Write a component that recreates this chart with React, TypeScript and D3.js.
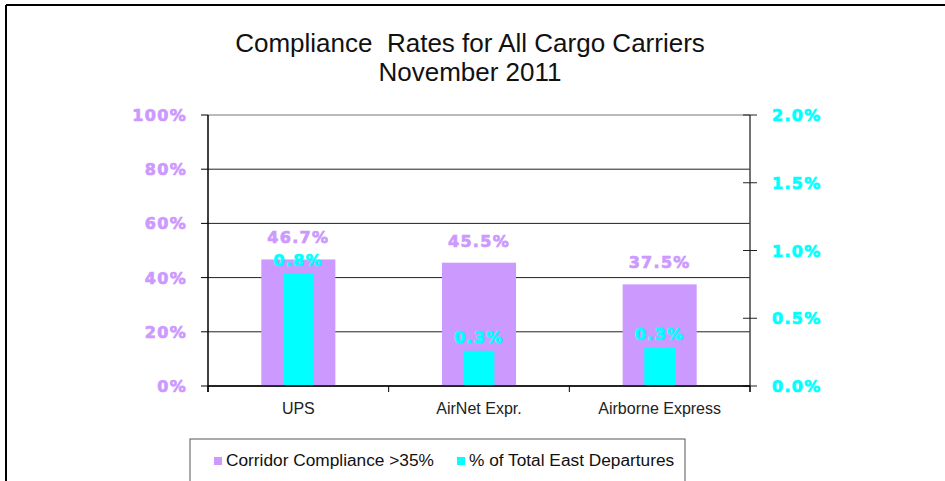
import React from "react";
import * as d3 from "d3";

// chart values
const carriers = ["UPS", "AirNet Expr.", "Airborne Express"];
const compliance = [46.7, 45.5, 37.5]; // left axis, %
const eastShare = [0.83, 0.26, 0.28]; // right axis, %
const leftTicks = [0, 20, 40, 60, 80, 100];
const rightTicks = [0, 0.5, 1.0, 1.5, 2.0];
const seriesNames = ["Corridor Compliance >35%", "% of Total East Departures"];

const PURPLE = "#CC99FF";
const CYAN = "#00FFFF";
const labelFont = "'DejaVu Sans', sans-serif";
const textFont = "'Liberation Sans', Arial, sans-serif";

// bold, slightly widened label text like the original chart
function BoldLabel(props: { x: number; y: number; anchor: string; fill: string; children: string }) {
  return (
    <text
      x={props.x}
      y={props.y}
      textAnchor={props.anchor}
      fontFamily={labelFont}
      fontWeight="bold"
      fontSize={16}
      letterSpacing={1.3}
      fill={props.fill}
      stroke={props.fill}
      strokeWidth={0.7}
    >
      {props.children}
    </text>
  );
}

export default function App() {
  const width = 945;
  const height = 481;
  const left = 208;
  const right = 750;
  const top = 115;
  const bottom = 386;

  const x = d3.scaleBand<string>().domain(carriers).range([left, right]);
  const yL = d3.scaleLinear().domain([0, 100]).range([bottom, top]);
  const yR = d3.scaleLinear().domain([0, 2]).range([bottom, top]);
  const fmt = d3.format(".1f");

  const bw = x.bandwidth();
  const purpleW = bw * 0.41;
  const cyanW = bw * 0.17;

  const boundaries = carriers.map((c) => x(c) as number).concat([right]);

  return (
    <svg
      width={width}
      height={height}
      style={{ position: "absolute", left: 0, top: 0, background: "#fff" }}
    >
      {/* outer frame (top and left edges only visible) */}
      <line x1={6} y1={5} x2={width} y2={5} stroke="#000" strokeWidth={2} />
      <line x1={6} y1={5} x2={6} y2={height} stroke="#000" strokeWidth={2} />

      {/* title */}
      <text
        x={470}
        y={52}
        textAnchor="middle"
        fontFamily={textFont}
        fontSize={26}
        fill="#111"
        style={{ whiteSpace: "pre" }}
      >
        {"Compliance  Rates for All Cargo Carriers"}
      </text>
      <text x={470} y={81} textAnchor="middle" fontFamily={textFont} fontSize={26} fill="#111">
        November 2011
      </text>

      {/* gridlines */}
      {leftTicks.map((t) => (
        <line
          key={"g" + t}
          x1={left}
          x2={right}
          y1={yL(t)}
          y2={yL(t)}
          stroke={t === 100 ? "#777" : "#222"}
          strokeWidth={1}
        />
      ))}

      {/* bars */}
      {carriers.map((c, i) => {
        const cx = (x(c) as number) + bw / 2;
        return (
          <g key={c}>
            <rect
              x={cx - purpleW / 2}
              y={yL(compliance[i])}
              width={purpleW}
              height={bottom - yL(compliance[i])}
              fill={PURPLE}
            />
            <rect
              x={cx - cyanW / 2}
              y={yR(eastShare[i])}
              width={cyanW}
              height={bottom - yR(eastShare[i])}
              fill={CYAN}
            />
            <BoldLabel x={cx} y={yL(compliance[i]) - 16} anchor="middle" fill={PURPLE}>
              {fmt(compliance[i]) + "%"}
            </BoldLabel>
            <BoldLabel x={cx} y={yR(eastShare[i]) - 8} anchor="middle" fill={CYAN}>
              {fmt(eastShare[i]) + "%"}
            </BoldLabel>
            <text
              x={cx}
              y={414}
              textAnchor="middle"
              fontFamily={textFont}
              fontSize={16}
              fill="#222"
            >
              {c}
            </text>
          </g>
        );
      })}

      {/* left axis */}
      <line x1={left} x2={left} y1={top} y2={bottom + 6} stroke="#000" strokeWidth={1.5} />
      {leftTicks.map((t) => (
        <g key={"l" + t}>
          <line x1={left - 7} x2={left} y1={yL(t)} y2={yL(t)} stroke="#000" />
          <BoldLabel x={187} y={yL(t) + 6} anchor="end" fill={PURPLE}>
            {t + "%"}
          </BoldLabel>
        </g>
      ))}

      {/* right axis */}
      <line x1={right} x2={right} y1={top} y2={bottom + 6} stroke="#444" strokeWidth={1.5} />
      {rightTicks.map((t) => (
        <g key={"r" + t}>
          <line x1={right - 7} x2={right + 7} y1={yR(t)} y2={yR(t)} stroke="#222" />
          <BoldLabel x={772} y={yR(t) + 6} anchor="start" fill={CYAN}>
            {fmt(t) + "%"}
          </BoldLabel>
        </g>
      ))}

      {/* x axis */}
      <line x1={left} x2={right} y1={bottom} y2={bottom} stroke="#000" strokeWidth={1.5} />
      {boundaries.map((b, i) => (
        <line key={"x" + i} x1={b} x2={b} y1={bottom} y2={bottom + 6} stroke="#000" />
      ))}

      {/* legend */}
      <rect x={190} y={439} width={495} height={60} fill="#fff" stroke="#555" strokeWidth={1} />
      {seriesNames.map((s, i) => {
        const lx = i === 0 ? 214 : 457;
        return (
          <g key={s}>
            <rect x={lx} y={457} width={8} height={8} fill={i === 0 ? PURPLE : CYAN} />
            <text x={lx + 12} y={466} fontFamily={textFont} fontSize={17.3} fill="#111">
              {s}
            </text>
          </g>
        );
      })}
    </svg>
  );
}
